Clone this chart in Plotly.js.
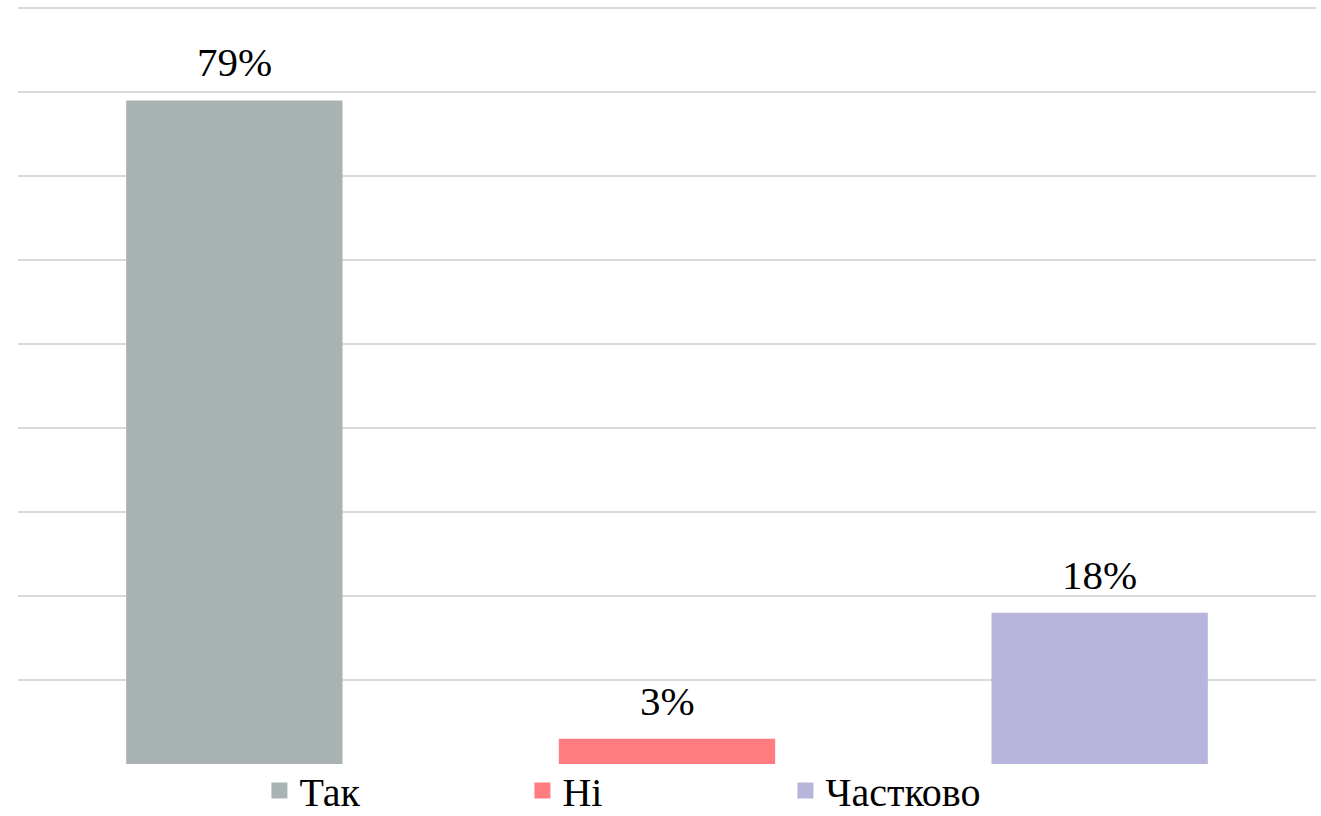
<!DOCTYPE html>
<html>
<head>
<meta charset="utf-8">
<script src="https://cdn.plot.ly/plotly-3.0.1.min.js"></script>
<style>html,body{margin:0;padding:0;background:#fff;}#chart{width:1321px;height:816px;}</style>
</head>
<body>
<div id="chart"></div>
<script>
const categories = ["Так", "Ні", "Частково"];
const values = [79, 3, 18];
const colors = ["#A9B3B3", "#FF7C80", "#B7B5DC"];
const yTickValues = [0, 10, 20, 30, 40, 50, 60, 70, 80, 90];

const FONT = "Liberation Serif, Times New Roman, serif";

const traces = [];
categories.forEach((c, i) => {
  traces.push({
    type: "bar",
    x: [c],
    y: [values[i]],
    marker: {color: colors[i]},
    width: 0.5,
    showlegend: false,
    hoverinfo: "skip"
  });
});
categories.forEach((c, i) => {
  traces.push({
    type: "scatter",
    mode: "markers",
    x: [null],
    y: [null],
    name: c,
    marker: {symbol: "square", size: 16, color: colors[i]},
    showlegend: true
  });
});

const annotations = categories.map((c, i) => ({
  x: c,
  y: values[i],
  xref: "x",
  yref: "y",
  text: values[i] + "%",
  showarrow: false,
  yanchor: "bottom",
  yshift: 13,
  font: {family: FONT, size: 41, color: "#000"}
}));

const layout = {
  width: 1321,
  height: 816,
  margin: {l: 18, r: 5, t: 7, b: 52, autoexpand: false},
  paper_bgcolor: "#fff",
  plot_bgcolor: "#fff",
  barmode: "overlay",
  font: {family: FONT, size: 40, color: "#000"},
  annotations: annotations,
  xaxis: {
    type: "category",
    categoryarray: categories,
    showticklabels: false,
    showgrid: false,
    zeroline: false,
    showline: false,
    ticks: ""
  },
  yaxis: {
    range: [0, 90.12],
    tickvals: yTickValues,
    showticklabels: false,
    showgrid: true,
    gridcolor: "#D9D9D9",
    gridwidth: 2,
    zeroline: false,
    showline: false,
    ticks: ""
  },
  showlegend: true,
  legend: {
    orientation: "h",
    x: 0.186,
    xanchor: "left",
    y: -0.035,
    yanchor: "middle",
    font: {family: FONT, size: 40, color: "#000"},
    entrywidth: 218,
    itemwidth: 30,
    tracegroupgap: 0,
    bgcolor: "rgba(0,0,0,0)"
  }
};

Plotly.newPlot("chart", traces, layout, {displayModeBar: false, staticPlot: true});
</script>
</body>
</html>
